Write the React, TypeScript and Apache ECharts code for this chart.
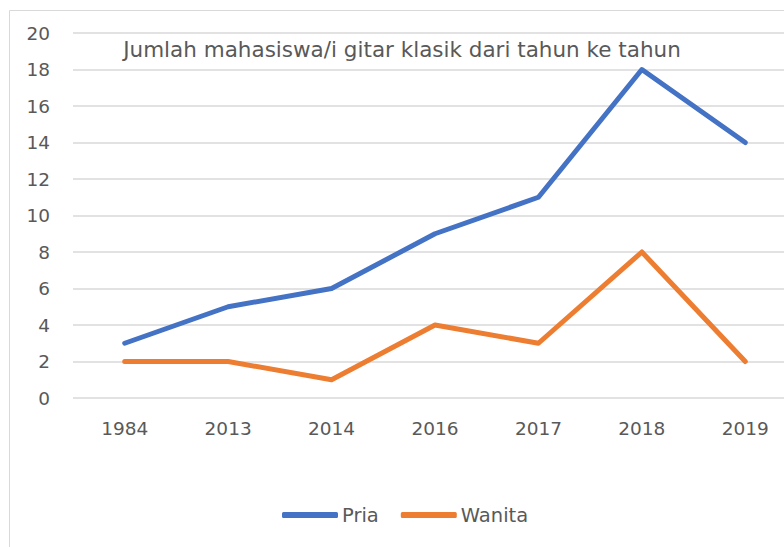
import React, { useEffect, useRef } from "react";
import * as echarts from "echarts";

const categories = ["1984", "2013", "2014", "2016", "2017", "2018", "2019"];
const pria = [3, 5, 6, 9, 11, 18, 14];
const wanita = [2, 2, 1, 4, 3, 8, 2];
const titleText = "Jumlah mahasiswa/i gitar klasik dari tahun ke tahun";

const FONT = "'DejaVu Sans', 'Open Sans', sans-serif";

export default function App() {
  const ref = useRef<HTMLDivElement>(null);
  useEffect(() => {
    if (!ref.current) return;
    const chart = echarts.init(ref.current, undefined, { renderer: "svg" });
    chart.setOption({
      animation: false,
      backgroundColor: "#ffffff",
      title: {
        text: titleText,
        left: 397,
        textAlign: "center",
        top: 33,
        textStyle: { fontFamily: FONT, fontSize: 21.5, fontWeight: "normal", color: "#595959" },
      },
      graphic: [
        { type: "line", shape: { x1: 9.5, y1: 10.5, x2: 9.5, y2: 547 }, style: { stroke: "#d9d9d9", lineWidth: 1 } },
        { type: "line", shape: { x1: 9.5, y1: 10.5, x2: 784, y2: 10.5 }, style: { stroke: "#d9d9d9", lineWidth: 1 } },
      ],
      legend: {
        top: 500,
        left: 277,
        icon: "roundRect",
        itemWidth: 56,
        itemHeight: 6,
        itemGap: 22,
        textStyle: { fontFamily: FONT, fontSize: 19.5, color: "#595959", padding: [0, 0, 0, -1] },
        data: ["Pria", "Wanita"],
      },
      grid: { left: 73, width: 724, top: 33, bottom: 149, outerBoundsMode: "none" },
      xAxis: {
        type: "category",
        data: categories,
        boundaryGap: true,
        axisLine: { show: false },
        axisTick: { show: false },
        axisLabel: { fontFamily: FONT, fontSize: 18.5, color: "#595959", margin: 21 },
      },
      yAxis: {
        type: "value",
        min: 0,
        max: 20,
        interval: 2,
        axisLine: { show: false },
        axisTick: { show: false },
        axisLabel: { fontFamily: FONT, fontSize: 18.5, color: "#595959", margin: 23 },
        splitLine: { lineStyle: { color: "#d9d9d9", width: 1.5 } },
      },
      series: [
        {
          name: "Pria",
          type: "line",
          data: pria,
          symbol: "none",
          color: "#4472C4",
          lineStyle: { width: 5, color: "#4472C4", cap: "round", join: "round" },
        },
        {
          name: "Wanita",
          type: "line",
          data: wanita,
          symbol: "none",
          color: "#ED7D31",
          lineStyle: { width: 5, color: "#ED7D31", cap: "round", join: "round" },
        },
      ],
    });
    return () => chart.dispose();
  }, []);
  return (
    <div
      ref={ref}
      style={{ position: "fixed", left: 0, top: 0, width: 784, height: 547 }}
    />
  );
}
